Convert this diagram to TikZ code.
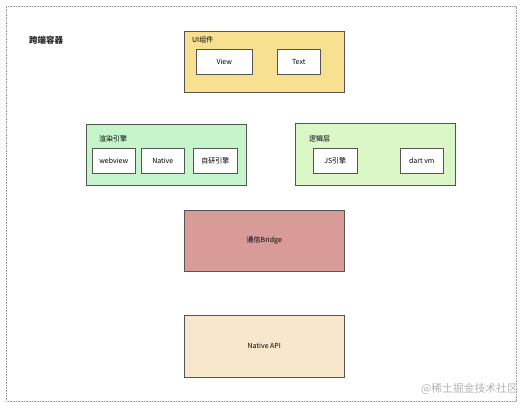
\documentclass[tikz,border=0pt]{standalone}
\usepackage{fontspec}
\setmainfont{Liberation Sans}
\newfontfamily\cjk{Noto Sans CJK SC}
\definecolor{uiyel}{HTML}{F7E08F}
\definecolor{rendgreen}{HTML}{C6F5CB}
\definecolor{logicgreen}{HTML}{DBF7C7}
\definecolor{bridgered}{HTML}{D89B98}
\definecolor{nativebg}{HTML}{F7E8CB}
\definecolor{edge}{HTML}{555555}
\begin{document}
\begin{tikzpicture}[x=1pt,y=-1pt,
  group/.style={draw=edge, line width=0.6pt, anchor=north west, inner sep=0pt},
  item/.style={draw=edge, line width=0.5pt, fill=white, anchor=north west, inner sep=0pt, font=\fontsize{7}{8}\selectfont\cjk},
  glabel/.style={anchor=west, inner sep=0pt, font=\fontsize{7}{8}\selectfont\cjk},
  center/.style={inner sep=0pt, font=\fontsize{7}{8}\selectfont\cjk}]
\useasboundingbox (0,0) rectangle (530,407);
% outer container
\node[draw=gray!80, densely dotted, line width=0.6pt, anchor=north west, minimum width=510pt, minimum height=395pt, inner sep=0pt] (outer) at (6,6) {};
\node[inner sep=0pt, text=black!85, font=\fontsize{8.5}{10}\selectfont\cjk\bfseries] (title) at (46,40) {跨端容器};
% UI components
\node[group, fill=uiyel, minimum width=160pt, minimum height=61pt] (ui) at (184,31) {};
\node[glabel] (uil) at (192,40) {UI组件};
\node[item, minimum width=56pt, minimum height=25pt] (view) at (196,49) {View};
\node[item, minimum width=43pt, minimum height=25pt] (text) at (277,49) {Text};
% render engine
\node[group, fill=rendgreen, minimum width=160pt, minimum height=61pt] (render) at (86,124) {};
\node[glabel] (renderl) at (99,139) {渲染引擎};
\node[item, minimum width=43pt, minimum height=25pt] (webview) at (92,148) {webview};
\node[item, minimum width=43pt, minimum height=25pt] (native) at (141,148) {Native};
\node[item, minimum width=44pt, minimum height=25pt] (self) at (193,148) {自研引擎};
% logic layer
\node[group, fill=logicgreen, minimum width=160pt, minimum height=62pt] (logic) at (295,123) {};
\node[glabel] (logicl) at (309,139) {逻辑层};
\node[item, minimum width=44pt, minimum height=25pt] (js) at (313,148) {JS引擎};
\node[item, minimum width=43pt, minimum height=25pt] (dart) at (400,148) {dart vm};
% bridge
\node[group, fill=bridgered, minimum width=160pt, minimum height=61pt] (bridge) at (184,210) {};
\node[center] (bridgel) at (bridge.center) {通信Bridge};
% native api
\node[group, fill=nativebg, minimum width=160pt, minimum height=62pt] (api) at (184,315) {};
\node[center] (apil) at (api.center) {Native API};
% watermark
\node[anchor=east, inner sep=0pt, text=gray!60, font=\fontsize{10.8}{12}\selectfont\cjk] (wm) at (518,389) {@稀土掘金技术社区};
\end{tikzpicture}
\end{document}
